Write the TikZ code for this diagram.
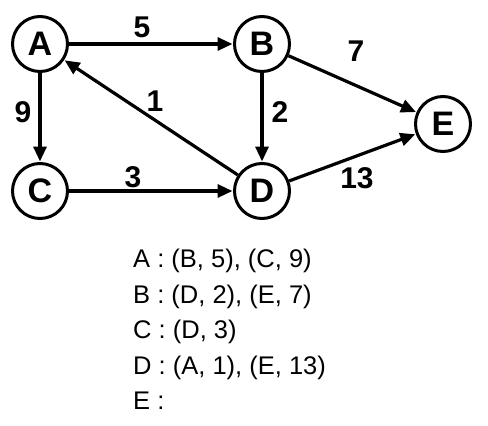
\documentclass[tikz,border=0pt]{standalone}
\usepackage{fontspec}
\setmainfont{Liberation Sans}
\usetikzlibrary{arrows.meta}
\begin{document}
\begin{tikzpicture}[x=1pt,y=-1pt,
  vtx/.style={circle,draw,line width=3pt,minimum size=55pt,inner sep=0pt,font=\fontsize{34}{34}\selectfont\bfseries},
  edge/.style={line width=3.2pt,-{Triangle[length=15pt,width=13pt]},shorten >=0.5pt},
  wlabel/.style={font=\fontsize{30}{30}\selectfont\bfseries,inner sep=0pt},
  listline/.style={font=\fontsize{25.5}{25.5}\selectfont,anchor=base west,inner sep=0pt}]
\useasboundingbox (0,0) rectangle (488,426);
\node[vtx] (A) at (40,44) {A};
\node[vtx] (B) at (262,44) {B};
\node[vtx] (C) at (40,191) {C};
\node[vtx] (D) at (262,191) {D};
\node[vtx] (E) at (443,124) {E};
\draw[edge] (A) -- (B);
\draw[edge] (A) -- (C);
\draw[edge] (B) -- (D);
\draw[edge] (C) -- (D);
\draw[edge] (D) -- (A);
\draw[edge] (B) -- (E);
\draw[edge] (D) -- (E);
\node[wlabel] (l5) at (142,27) {5};
\node[wlabel] (l9) at (23,112) {9};
\node[wlabel] (l2) at (280,112) {2};
\node[wlabel] (l1) at (155,101) {1};
\node[wlabel] (l3) at (133,177) {3};
\node[wlabel] (l7) at (356,51) {7};
\node[wlabel] (l13) at (357,178) {13};
\node[listline] (t1) at (133,267) {A : (B, 5), (C, 9)};
\node[listline] (t2) at (133,303) {B : (D, 2), (E, 7)};
\node[listline] (t3) at (133,338) {C : (D, 3)};
\node[listline] (t4) at (133,374) {D : (A, 1), (E, 13)};
\node[listline] (t5) at (133,409) {E :};
\end{tikzpicture}
\end{document}
